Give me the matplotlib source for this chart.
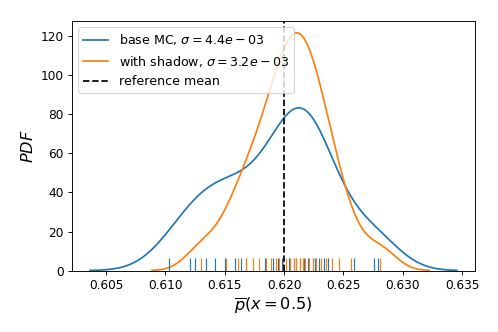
import matplotlib
matplotlib.use("Agg")
import matplotlib.pyplot as plt
import seaborn as sns
import numpy as np

base_mc = [0.6103, 0.6121, 0.6125, 0.6134, 0.6142, 0.6150, 0.6159, 0.6164, 0.6168,
           0.6184, 0.6191, 0.6195, 0.6198, 0.6204, 0.6208, 0.6210, 0.6213, 0.6217,
           0.6220, 0.6224, 0.6226, 0.6229, 0.6234, 0.6237, 0.6259, 0.6276, 0.6279]
with_shadow = [0.6130, 0.6151, 0.6161, 0.6168, 0.6174, 0.6179, 0.6185, 0.6189,
               0.6193, 0.6196, 0.6199, 0.6202, 0.6205, 0.6208, 0.6210, 0.6213,
               0.6216, 0.6218, 0.6221, 0.6224, 0.6227, 0.6231, 0.6235, 0.6240,
               0.6246, 0.6256, 0.6281]
ref_mean = 0.62
labels = [r"base MC, $\sigma=4.4e-03$", r"with shadow, $\sigma=3.2e-03$", "reference mean"]

plt.rcParams["font.size"] = 10.5
fig, ax = plt.subplots(figsize=(6, 4), dpi=83)
sns.kdeplot(x=base_mc, ax=ax, color="C0", label=labels[0], bw_adjust=0.92)
sns.kdeplot(x=with_shadow, ax=ax, color="C1", label=labels[1], bw_adjust=0.8)
ymax = max(float(np.max(l.get_ydata())) for l in ax.get_lines())
sns.rugplot(x=base_mc, ax=ax, color="C0", height=0.05, lw=1.5)
sns.rugplot(x=with_shadow, ax=ax, color="C1", height=0.05, lw=1.5)
ax.axvline(ref_mean, color="k", ls="--", label=labels[2])
ax.set_ylim(0, ymax * 1.05)
ax.tick_params(labelsize=10.5)
ax.set_xlabel(r"$\overline{p}(x=0.5)$", fontsize=14)
ax.set_ylabel(r"$PDF$", fontsize=14)
ax.legend(loc="upper left", fontsize=11)
fig.subplots_adjust(left=0.144, right=0.954, top=0.937, bottom=0.185)
fig.savefig("out.png", dpi=83)
